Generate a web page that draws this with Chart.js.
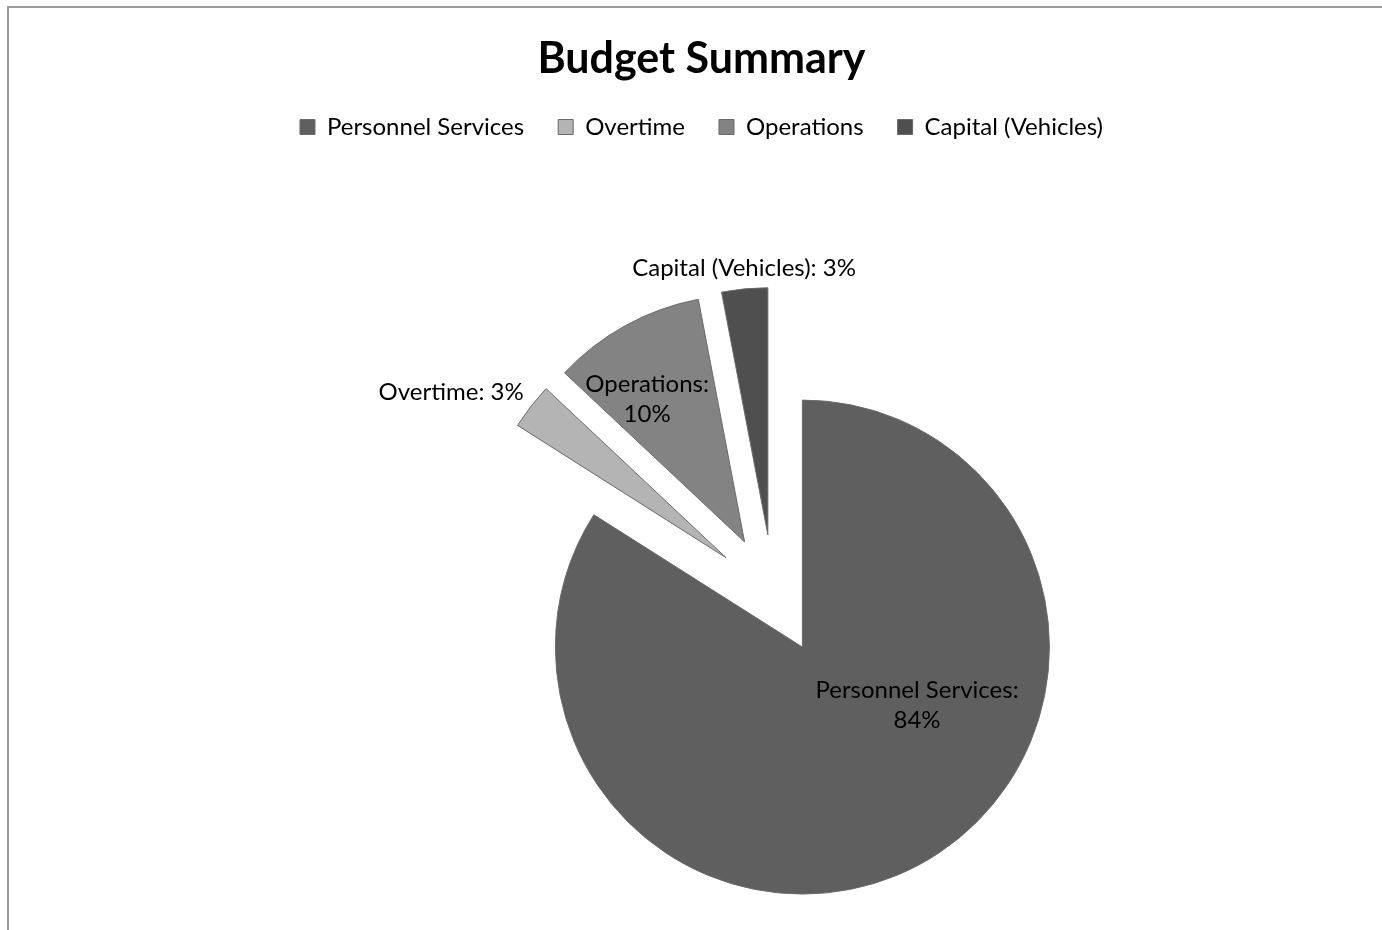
<!DOCTYPE html>
<html>
<head>
<meta charset="utf-8">
<title>Budget Summary</title>
<script src="https://cdn.jsdelivr.net/npm/chart.js@4.4.0/dist/chart.umd.min.js"></script>
<style>
  html, body { margin: 0; padding: 0; background: #fff; overflow: hidden; }
  .frame { position: absolute; left: 7px; top: 6px; border-top: 2px solid #9c9c9c; border-left: 2px solid #9c9c9c; }
  .chart-box { position: relative; width: 1385px; height: 1050px; }
</style>
</head>
<body>
<div class="frame"><div class="chart-box"><canvas id="budget-pie"></canvas></div></div>
<script>
// ---- data ----
const categories = ['Personnel Services', 'Overtime', 'Operations', 'Capital (Vehicles)'];
const shares = [84, 3, 10, 3];
const sliceColors = ['#5f5f5f', '#b4b4b4', '#838383', '#4f4f4f'];

// where each data label sits: turn = degrees from the slice middle, reach = share of radius
const labelPlacement = [
  { turn: -34.4, reach: 0.52, wrap: true },
  { turn: -6.7, reach: 1.30, wrap: false },
  { turn: -5.5, reach: 0.70, wrap: true },
  { turn: 0.3, reach: 1.085, wrap: false },
];

const FONT = 'Lato, "Open Sans", sans-serif';

// Arc that is pushed out along its middle angle without growing its radius
class ExplodedArc extends Chart.ArcElement {
  draw(ctx) {
    const { x, y, startAngle, endAngle, outerRadius, options } = this;
    if (endAngle <= startAngle) return;
    const shift = options.offset || 0;
    const mid = (startAngle + endAngle) / 2;
    ctx.save();
    ctx.translate(Math.cos(mid) * shift, Math.sin(mid) * shift);
    ctx.beginPath();
    ctx.moveTo(x, y);
    ctx.arc(x, y, outerRadius, startAngle, endAngle);
    ctx.closePath();
    ctx.fillStyle = options.backgroundColor;
    ctx.fill();
    if (options.borderWidth) {
      ctx.lineWidth = options.borderWidth;
      ctx.strokeStyle = options.borderColor;
      ctx.lineJoin = 'miter';
      ctx.stroke();
    }
    ctx.restore();
  }
}
ExplodedArc.id = 'explodedArc';

class ExplodedPie extends Chart.PieController {}
ExplodedPie.id = 'explodedPie';
ExplodedPie.defaults = { dataElementType: 'explodedArc' };

Chart.register(ExplodedArc, ExplodedPie);

// "Name: xx%" labels next to / inside the slices
const sliceLabels = {
  id: 'sliceLabels',
  afterDatasetsDraw(chart) {
    const { ctx } = chart;
    const meta = chart.getDatasetMeta(0);
    const total = shares.reduce((a, b) => a + b, 0);
    ctx.save();
    ctx.font = `24px ${FONT}`;
    ctx.fillStyle = '#000';
    ctx.textAlign = 'center';
    ctx.textBaseline = 'middle';
    meta.data.forEach((arc, i) => {
      const { x, y, startAngle, endAngle, outerRadius } =
        arc.getProps(['x', 'y', 'startAngle', 'endAngle', 'outerRadius'], true);
      const shift = arc.options.offset || 0;
      const mid = (startAngle + endAngle) / 2;
      const place = labelPlacement[i];
      const ang = mid + place.turn * Math.PI / 180;
      const px = x + Math.cos(mid) * shift + Math.cos(ang) * outerRadius * place.reach;
      const py = y + Math.sin(mid) * shift + Math.sin(ang) * outerRadius * place.reach;
      const pct = Math.round(shares[i] / total * 100) + '%';
      const lines = place.wrap ? [categories[i] + ':', pct] : [categories[i] + ': ' + pct];
      lines.forEach((t, k) => ctx.fillText(t, px, py + (k - (lines.length - 1) / 2) * 30));
    });
    ctx.restore();
  }
};

new Chart(document.getElementById('budget-pie'), {
  type: 'explodedPie',
  data: {
    labels: categories,
    datasets: [{
      data: shares,
      backgroundColor: sliceColors,
      borderColor: '#6a6a6a',
      borderWidth: 1,
      offset: 60,
    }]
  },
  options: {
    responsive: true,
    maintainAspectRatio: false,
    animation: false,
    events: [],
    radius: 247,
    layout: { padding: { left: 0, right: 0, top: 0, bottom: 18 } },
    plugins: {
      title: {
        display: true,
        text: 'Budget Summary',
        color: '#000',
        font: { family: FONT, size: 43, weight: 'bold', lineHeight: 1 },
        padding: { top: 30, bottom: 0 }
      },
      // empty left gutter: pushes the pie right while title and legend stay centred
      subtitle: {
        display: true,
        text: '',
        position: 'left',
        fullSize: false,
        color: 'rgba(0,0,0,0)',
        font: { size: 4, lineHeight: 1 },
        padding: { top: 0, bottom: 140 }
      },
      legend: {
        position: 'top',
        labels: { color: '#000', font: { family: FONT, size: 24 }, boxWidth: 15, boxHeight: 15, padding: 34 }
      },
      tooltip: { enabled: false }
    }
  },
  plugins: [sliceLabels]
});
</script>
</body>
</html>
